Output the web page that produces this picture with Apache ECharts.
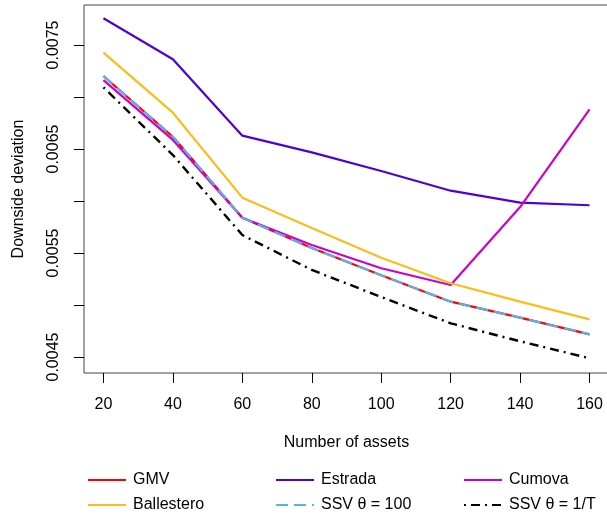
<!DOCTYPE html>
<html>
<head>
<meta charset="utf-8">
<script src="https://cdn.jsdelivr.net/npm/echarts@6/dist/echarts.min.js"></script>
<style>
  html, body { margin: 0; padding: 0; background: #fff; }
  #chart { width: 607px; height: 516px; }
</style>
</head>
<body>
<div id="chart"></div>
<script>
// Number of assets in the portfolio
const assets = [20, 40, 60, 80, 100, 120, 140, 160];

// Downside deviation per strategy
const gmv        = [0.007202, 0.006618, 0.005839, 0.005548, 0.005286, 0.005032, 0.004878, 0.004718];
const estrada    = [0.007757, 0.007363, 0.006628, 0.006468, 0.006288, 0.006099, 0.005984, 0.005959];
const cumova     = [0.007163, 0.006587, 0.005839, 0.005577, 0.005353, 0.005192, 0.005942, 0.006880];
const ballestero = [0.007426, 0.006849, 0.006032, 0.005740, 0.005455, 0.005209, 0.005032, 0.004862];
const ssv100     = [0.007202, 0.006618, 0.005839, 0.005548, 0.005286, 0.005032, 0.004878, 0.004718];
const ssvInvT    = [0.007093, 0.006442, 0.005673, 0.005337, 0.005077, 0.004824, 0.004651, 0.004488];

// Axis ticks and labels
const xTicks = [20, 40, 60, 80, 100, 120, 140, 160];
const yTicks = [0.0045, 0.005, 0.0055, 0.006, 0.0065, 0.007, 0.0075];
const yLabels = [0.0045, 0.0055, 0.0065, 0.0075];

const FONT = 'Liberation Sans, Arial, Helvetica, sans-serif';

const pairs = v => assets.map((a, i) => [a, v[i]]);

function lineSeries(name, data, color, type, width) {
  return {
    name, type: 'line', data: pairs(data),
    symbol: 'none', smooth: false, animation: false,
    lineStyle: { color, width: width || 2.2, type: type || 'solid', cap: 'butt' },
    itemStyle: { color },
    emphasis: { disabled: true }
  };
}

// One legend entry per block: three columns, two rows
function legendItem(name, left, top) {
  return {
    data: [name], left, top, padding: 0,
    orient: 'horizontal', itemWidth: 38, itemHeight: 16,
    selectedMode: false,
    itemStyle: { color: 'rgba(0,0,0,0)', borderWidth: 0, opacity: 0 },
    textStyle: { fontFamily: FONT, fontSize: 16, color: '#000', padding: [0, 0, 0, 2] }
  };
}

const chart = echarts.init(document.getElementById('chart'), null, { renderer: 'canvas' });
chart.setOption({
  animation: false,
  backgroundColor: '#fff',
  grid: {
    left: 84, top: 5, width: 525, height: 368,
    outerBoundsMode: 'none', containLabel: false,
    show: true, borderColor: '#444', borderWidth: 1, backgroundColor: 'transparent'
  },
  xAxis: {
    type: 'value', min: 14.4, max: 165.6,
    name: 'Number of assets', nameLocation: 'middle', nameGap: 62,
    nameTextStyle: { fontFamily: FONT, fontSize: 16, color: '#000' },
    axisLine: { show: false },
    axisTick: { show: true, length: 10, inside: false, customValues: xTicks, lineStyle: { color: '#000' } },
    axisLabel: { customValues: xTicks, fontFamily: FONT, fontSize: 16, color: '#000', margin: 24 },
    splitLine: { show: false }
  },
  yAxis: {
    type: 'value', min: 0.0043462, max: 0.0078846,
    name: 'Downside deviation', nameLocation: 'middle', nameGap: 57, nameRotate: 90,
    nameTextStyle: { fontFamily: FONT, fontSize: 16, color: '#000' },
    axisLine: { show: false },
    axisTick: { show: true, length: 10, inside: false, customValues: yTicks, lineStyle: { color: '#000' } },
    axisLabel: {
      customValues: yLabels, rotate: 90, margin: 22,
      fontFamily: FONT, fontSize: 16, color: '#000',
      formatter: v => v.toFixed(4)
    },
    splitLine: { show: false }
  },
  legend: [
    legendItem('GMV', 87, 472),
    legendItem('Estrada', 275, 472),
    legendItem('Cumova', 463, 472),
    legendItem('Ballestero', 87, 497),
    legendItem('SSV θ = 100', 275, 497),
    legendItem('SSV θ = 1/T', 463, 497)
  ],
  series: [
    lineSeries('GMV', gmv, '#ff0000'),
    lineSeries('Estrada', estrada, '#5000d2'),
    lineSeries('Cumova', cumova, '#cc00cc'),
    lineSeries('Ballestero', ballestero, '#fbbc1c'),
    lineSeries('SSV θ = 100', ssv100, '#56b4e9', [12, 6]),
    lineSeries('SSV θ = 1/T', ssvInvT, '#000000', [2, 5, 9, 5], 2.4)
  ]
});
</script>
</body>
</html>
